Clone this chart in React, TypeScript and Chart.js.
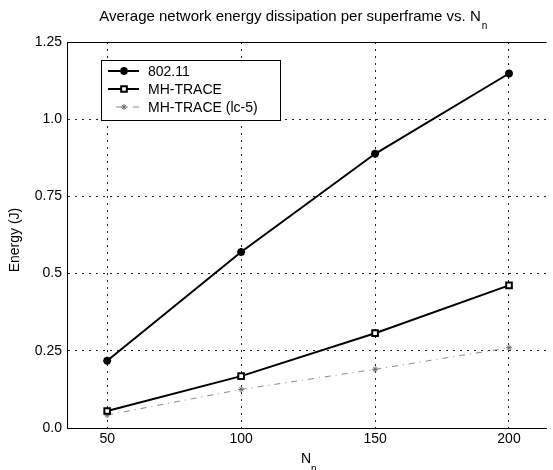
import React, { useEffect, useRef } from "react";
import { Chart, registerables } from "chart.js";
import { drawPoint } from "chart.js/helpers";

Chart.register(...registerables);

const nodeCounts = [50, 100, 150, 200];
const energy80211 = [0.218, 0.57, 0.888, 1.148];
const energyMhTrace = [0.055, 0.168, 0.307, 0.462];
const energyMhTraceLc5 = [0.042, 0.125, 0.19, 0.26];
const xTicks = [50, 100, 150, 200];
const yTicks = [0, 0.25, 0.5, 0.75, 1.0, 1.25];
const yTickLabels = ["0.0", "0.25", "0.5", "0.75", "1.0", "1.25"];
const seriesNames = ["802.11", "MH-TRACE", "MH-TRACE (lc-5)"];
const titleText = "Average network energy dissipation per superframe vs. N";
const xTitle = "N";
const subscript = "n";
const yTitle = "Energy (J)";

const FONT = "'Liberation Sans', Arial, sans-serif";

const annotations = {
  id: "annotations",
  afterDatasetsDraw(chart: any) {
    const ctx = chart.ctx;
    const area = chart.chartArea;
    ctx.save();
    // frame top
    ctx.strokeStyle = "#000";
    ctx.lineWidth = 1;
    ctx.beginPath();
    ctx.moveTo(area.left, area.top + 0.5);
    ctx.lineTo(area.right, area.top + 0.5);
    ctx.stroke();

    // title
    ctx.fillStyle = "#000";
    ctx.font = `15px ${FONT}`;
    ctx.textBaseline = "alphabetic";
    ctx.textAlign = "left";
    const tw = ctx.measureText(titleText).width;
    const tx = 294 - (tw + 8) / 2;
    ctx.fillText(titleText, tx, 21);
    ctx.font = `10px ${FONT}`;
    ctx.fillText(subscript, tx + tw + 1, 29);

    // x title
    ctx.font = `14px ${FONT}`;
    const cx = 305;
    ctx.fillText(xTitle, cx - 4, 463);
    ctx.font = `10px ${FONT}`;
    ctx.fillText(subscript, cx + 6, 472);

    // y title
    ctx.font = `14px ${FONT}`;
    ctx.translate(19, (area.top + area.bottom) / 2 + 5);
    ctx.rotate(-Math.PI / 2);
    ctx.textAlign = "center";
    ctx.fillText(yTitle, 0, 0);
    ctx.restore();

    // legend
    ctx.save();
    const bx = 101, by = 60, bw = 179, bh = 60;
    ctx.fillStyle = "#fff";
    ctx.fillRect(bx, by, bw, bh);
    ctx.strokeStyle = "#000";
    ctx.lineWidth = 1;
    ctx.strokeRect(bx + 0.5, by + 0.5, bw, bh);
    const rows = [71, 89, 107];
    chart.data.datasets.forEach((ds: any, i: number) => {
      const y = rows[i];
      ctx.strokeStyle = ds.borderColor;
      ctx.lineWidth = ds.borderWidth;
      ctx.setLineDash(ds.borderDash || []);
      ctx.beginPath();
      ctx.moveTo(i === 2 ? 116 : 108, y);
      ctx.lineTo(139, y);
      ctx.stroke();
      ctx.setLineDash([]);
      const meta = chart.getDatasetMeta(i);
      const el = meta.data[0];
      const opts = el.options;
      ctx.fillStyle = opts.backgroundColor;
      ctx.strokeStyle = opts.borderColor;
      ctx.lineWidth = opts.borderWidth;
      drawPoint(ctx, opts, 124, y);
      ctx.fillStyle = "#000";
      ctx.font = `14px ${FONT}`;
      ctx.textAlign = "left";
      ctx.textBaseline = "middle";
      ctx.fillText(ds.label, 148, y + 1);
    });
    ctx.restore();
  },
};

export default function App() {
  const ref = useRef<HTMLCanvasElement | null>(null);
  useEffect(() => {
    document.body.style.margin = "0";
    const canvas = ref.current!;
    const chart = new Chart(canvas, {
      type: "line",
      data: {
        datasets: [
          {
            label: seriesNames[0],
            data: nodeCounts.map((x, i) => ({ x, y: energy80211[i] })),
            borderColor: "#000",
            backgroundColor: "#000",
            borderWidth: 2,
            pointStyle: "star",
            pointRadius: 4,
            pointBorderWidth: 2.5,
            pointBorderColor: "#000",
            pointBackgroundColor: "#000",
          },
          {
            label: seriesNames[1],
            data: nodeCounts.map((x, i) => ({ x, y: energyMhTrace[i] })),
            borderColor: "#000",
            backgroundColor: "#fff",
            borderWidth: 2,
            pointStyle: "rect",
            pointRadius: 4,
            pointBorderWidth: 2,
            pointBorderColor: "#000",
            pointBackgroundColor: "#fff",
          },
          {
            label: seriesNames[2],
            data: nodeCounts.map((x, i) => ({ x, y: energyMhTraceLc5[i] })),
            borderColor: "#8a8a8a",
            backgroundColor: "#8a8a8a",
            borderWidth: 1,
            borderDash: [6, 5, 1, 5],
            pointStyle: "star",
            pointRadius: 3,
            pointBorderWidth: 1,
            pointBorderColor: "#666",
            pointBackgroundColor: "#666",
          },
        ],
      },
      options: {
        animation: false,
        responsive: false,
        maintainAspectRatio: false,
        layout: { padding: { top: 42, right: 0, left: 0, bottom: 0 } },
        plugins: { legend: { display: false }, title: { display: false }, tooltip: { enabled: false } },
        scales: {
          x: {
            type: "linear",
            min: 35,
            max: 214,
            afterBuildTicks: (s: any) => {
              s.ticks = xTicks.map((v) => ({ value: v }));
            },
            afterFit: (s: any) => {
              s.height = 42;
            },
            ticks: {
              color: "#000",
              font: { family: FONT, size: 14 },
              padding: 3,
              maxRotation: 0,
            },
            grid: { color: "#222", lineWidth: 1, drawTicks: false },
            border: { display: true, color: "#000", width: 1, dash: [2, 5] },
          },
          y: {
            type: "linear",
            min: 0,
            max: 1.25,
            afterBuildTicks: (s: any) => {
              s.ticks = yTicks.map((v) => ({ value: v }));
            },
            afterFit: (s: any) => {
              s.width = 67;
            },
            ticks: {
              color: "#000",
              font: { family: FONT, size: 14 },
              padding: 5,
              callback: (v: any) => {
                const i = yTicks.indexOf(Number(v));
                return i >= 0 ? yTickLabels[i] : "";
              },
            },
            grid: { color: "#222", lineWidth: 1, drawTicks: false },
            border: { display: true, color: "#000", width: 1, dash: [2, 5] },
          },
        },
      } as any,
      plugins: [annotations],
    });
    return () => chart.destroy();
  }, []);
  return (
    <div style={{ width: 553, height: 470, background: "#fff" }}>
      <canvas ref={ref} width={553} height={470} style={{ display: "block" }} />
    </div>
  );
}
